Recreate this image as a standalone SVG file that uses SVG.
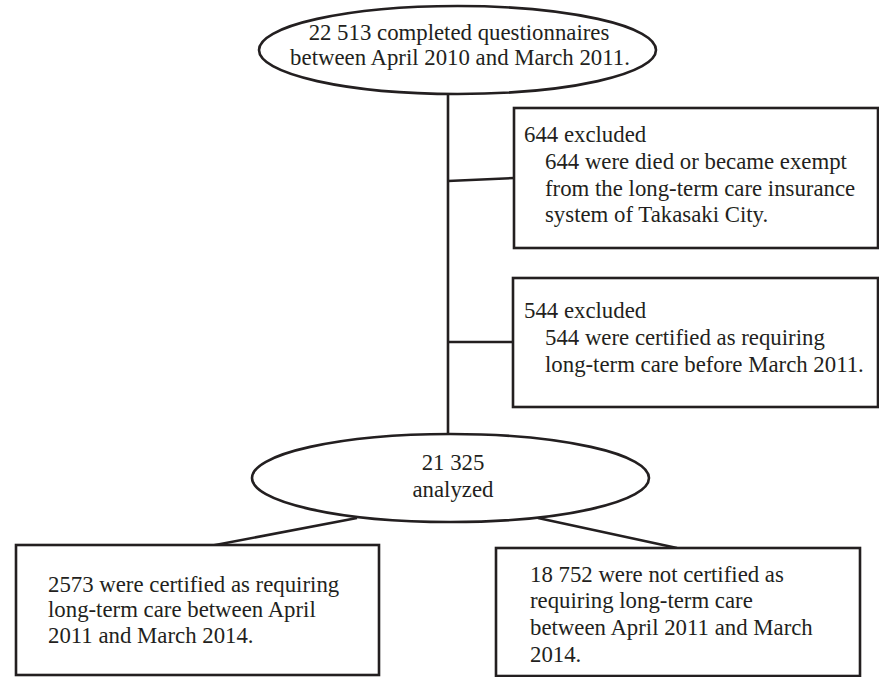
<svg xmlns="http://www.w3.org/2000/svg" width="879" height="677" viewBox="0 0 879 677">
<style>
.shape{fill:#fff;stroke:#231f20;stroke-width:2.6}
.conn{fill:none;stroke:#231f20;stroke-width:2.6}
text{font-family:"Liberation Serif","Times New Roman",serif;font-size:22.8px;fill:#231f20}
.c{text-anchor:middle}
</style>
<rect width="879" height="677" fill="#fff"/>
<g id="connectors">
<line class="conn" x1="448" y1="93" x2="448" y2="435"/>
<line class="conn" x1="448" y1="181" x2="514" y2="178"/>
<line class="conn" x1="448" y1="342" x2="513" y2="342"/>
<line class="conn" x1="357" y1="518" x2="210" y2="546"/>
<line class="conn" x1="538" y1="518" x2="677" y2="548"/>
</g>
<g id="node-start">
<ellipse class="shape" cx="457.5" cy="50" rx="198.5" ry="44"/>
<text class="c" x="459" y="40">22 513 completed questionnaires</text>
<text class="c" x="460" y="65">between April 2010 and March 2011.</text>
</g>
<g id="node-excl1">
<rect class="shape" x="514" y="108" width="364" height="140"/>
<text x="524" y="142">644 excluded</text>
<text x="545" y="169">644 were died or became exempt</text>
<text x="545" y="196">from the long-term care insurance</text>
<text x="545" y="222">system of Takasaki City.</text>
</g>
<g id="node-excl2">
<rect class="shape" x="513" y="278" width="365" height="129"/>
<text x="524" y="318">544 excluded</text>
<text x="545" y="345">544 were certified as requiring</text>
<text x="545" y="372">long-term care before March 2011.</text>
</g>
<g id="node-analyzed">
<ellipse class="shape" cx="450.5" cy="478" rx="198.5" ry="44"/>
<text class="c" x="453" y="470">21 325</text>
<text class="c" x="453" y="497">analyzed</text>
</g>
<g id="node-certified">
<rect class="shape" x="16" y="545" width="363" height="130"/>
<text x="48" y="592">2573 were certified as requiring</text>
<text x="48" y="617">long-term care between April</text>
<text x="48" y="643">2011 and March 2014.</text>
</g>
<g id="node-notcertified">
<rect class="shape" x="496" y="548" width="364" height="128"/>
<text x="530" y="582">18 752 were not certified as</text>
<text x="530" y="608">requiring long-term care</text>
<text x="530" y="635">between April 2011 and March</text>
<text x="530" y="662">2014.</text>
</g>
</svg>
